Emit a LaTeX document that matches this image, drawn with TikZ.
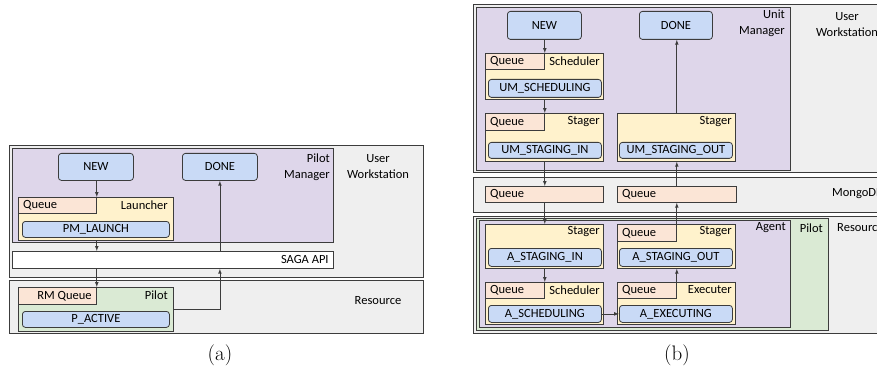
\documentclass[tikz,border=0pt]{standalone}
\usepackage{fontspec}
\usepackage{tikz}
\usetikzlibrary{calc}
\newfontfamily\boxfont{Carlito}
\definecolor{zonegray}{RGB}{239,239,239}
\definecolor{mgrpurple}{RGB}{222,214,234}
\definecolor{compyellow}{RGB}{255,242,204}
\definecolor{queueorange}{RGB}{251,229,214}
\definecolor{stateblue}{RGB}{201,218,246}
\definecolor{pilotgreen}{RGB}{218,234,212}
\definecolor{linegray}{RGB}{60,60,60}
\tikzset{
	txt/.style={font=\boxfont\fontsize{12.5}{16}\selectfont, inner sep=0pt},
	zone/.style={draw=linegray, fill=zonegray, line width=0.8pt, anchor=north west, inner sep=0pt},
	mgr/.style={zone, fill=mgrpurple},
	comp/.style={zone, fill=compyellow},
	que/.style={zone, fill=queueorange},
	plt/.style={zone, fill=pilotgreen},
	api/.style={zone, fill=white},
	state/.style={zone, txt, fill=stateblue, rounded corners=3pt},
	arr/.style={-latex, linegray, line width=0.7pt},
	subcap/.style={font=\fontsize{21}{25}\selectfont, inner sep=0pt},
}

\begin{document}
\begin{tikzpicture}[x=1pt, y=-1pt]
		%%%%% START %%%%%
		\clip (0, 0) rectangle (877, 374);
		
		%%%%% (a) %%%%%
		\node[zone, minimum width=414pt, minimum height=132pt] (uw) at (9, 145) {};
		\node[zone, minimum width=414pt, minimum height=53pt] (res) at (9, 280) {};
		\node[mgr, minimum width=321pt, minimum height=94pt] (pm) at (12, 148) {};
		\node[txt, align=right, anchor=east] (pmlbl) at (330, 167) {Pilot\\Manager};
		\node[txt, align=center] (uwlbl) at (378, 167) {User\\Workstation};
		\node[txt] (reslbl) at (378, 301) {Resource};
		
		\node[state, minimum width=75pt, minimum height=27pt] (new) at (58, 153) {NEW};
		\node[state, minimum width=75pt, minimum height=27pt] (done) at (182, 153) {DONE};
		
		\node[comp, minimum width=155pt, minimum height=43pt] (launcher) at (18, 197) {};
		\node[que, minimum width=78pt, minimum height=16pt] (lq) at (18, 197) {};
		\node[txt, anchor=west] (lqlbl) at ([xshift=5pt]lq.west) {Queue};
		\node[txt, anchor=east] (launcherlbl) at (168, 205) {Launcher};
		\node[state, minimum width=147pt, minimum height=16pt] (pmlaunch) at (22, 221) {PM\_LAUNCH};
		
		\node[api, minimum width=321pt, minimum height=17pt] (saga) at (12, 251) {};
		\node[txt, anchor=east] (sagalbl) at ([xshift=-5pt]saga.east) {SAGA API};
		
		\node[plt, minimum width=155pt, minimum height=44pt] (pilot) at (18, 287) {};
		\node[que, minimum width=78pt, minimum height=17pt] (rmq) at (18, 287) {};
		\node[txt, anchor=east] (rmqlbl) at ([xshift=-5pt]rmq.east) {RM Queue};
		\node[txt, anchor=east] (pilotlbl) at (168, 295) {Pilot};
		\node[state, minimum width=147pt, minimum height=16pt] (pactive) at (22, 311) {P\_ACTIVE};
		
		\draw[arr] (new.south -| lq.east) -- (lq.north east);
		\draw[arr] (launcher.south -| lq.east) -- (saga.north -| lq.east);
		\draw[arr] (saga.south -| rmq.east) -- (rmq.north east);
		\draw[arr] (pilot.east) -| (saga.south -| done.south);
		\draw[arr] (saga.north -| done.south) -- (done.south);
		
		\node[subcap] (capa) at (220, 355) {(a)};
		
		%%%%% (b) %%%%%
		\node[zone, minimum width=430pt, minimum height=168pt] (uw2) at (473, 4) {};
		\node[zone, minimum width=430pt, minimum height=35pt] (mongo) at (473, 177) {};
		\node[zone, minimum width=430pt, minimum height=117pt] (res2) at (473, 216) {};
		\node[mgr, minimum width=314pt, minimum height=163pt] (um) at (476, 7) {};
		\node[txt, align=right, anchor=east] (umlbl) at (785, 23) {Unit\\Manager};
		\node[txt, align=center] (uw2lbl) at (847, 25) {User\\Workstation};
		
		\node[state, minimum width=74pt, minimum height=28pt] (new2) at (507, 11) {NEW};
		\node[state, minimum width=73pt, minimum height=28pt] (done2) at (639, 11) {DONE};
		
		\node[comp, minimum width=118pt, minimum height=46pt] (sched) at (485, 53) {};
		\node[que, minimum width=59pt, minimum height=16pt] (sq) at (485, 53) {};
		\node[txt, anchor=west] (sqlbl) at ([xshift=5pt]sq.west) {Queue};
		\node[txt, anchor=east] (schedlbl) at (600, 61) {Scheduler};
		\node[state, minimum width=113pt, minimum height=18pt] (umsched) at (488, 79) {UM\_SCHEDULING};
		
		\node[comp, minimum width=118pt, minimum height=48pt] (stin) at (485, 113) {};
		\node[que, minimum width=59pt, minimum height=17pt] (siq) at (485, 113) {};
		\node[txt, anchor=west] (siqlbl) at ([xshift=5pt]siq.west) {Queue};
		\node[txt, anchor=east] (stinlbl) at (600, 122) {Stager};
		\node[state, minimum width=113pt, minimum height=16pt] (umstin) at (488, 142) {UM\_STAGING\_IN};
		
		\node[comp, minimum width=118pt, minimum height=48pt] (stout) at (617, 113) {};
		\node[txt, anchor=east] (stoutlbl) at (732, 122) {Stager};
		\node[state, minimum width=113pt, minimum height=16pt] (umstout) at (619, 142) {UM\_STAGING\_OUT};
		
		\node[que, minimum width=118pt, minimum height=16pt] (mq1) at (485, 186) {};
		\node[txt, anchor=west] (mq1lbl) at ([xshift=5pt]mq1.west) {Queue};
		\node[que, minimum width=119pt, minimum height=16pt] (mq2) at (617, 186) {};
		\node[txt, anchor=west] (mq2lbl) at ([xshift=5pt]mq2.west) {Queue};
		\node[txt, anchor=west] (mongolbl) at (832, 194) {MongoDB};
		
		\node[plt, minimum width=352pt, minimum height=112pt] (pilot2) at (476, 218) {};
		\node[mgr, minimum width=311pt, minimum height=107pt] (agent) at (479, 220) {};
		\node[txt, anchor=east] (agentlbl) at (786, 228) {Agent};
		\node[txt, anchor=east] (pilot2lbl) at (823, 228) {Pilot};
		\node[txt, anchor=west] (res2lbl) at (837, 228) {Resource};
		
		\node[comp, minimum width=118pt, minimum height=44pt] (astin) at (485, 224) {};
		\node[txt, anchor=east] (astinlbl) at (600, 232) {Stager};
		\node[state, minimum width=113pt, minimum height=18pt] (aastin) at (488, 248) {A\_STAGING\_IN};
		
		\node[comp, minimum width=118pt, minimum height=44pt] (astout) at (617, 224) {};
		\node[que, minimum width=59pt, minimum height=17pt] (soq) at (617, 224) {};
		\node[txt, anchor=west] (soqlbl) at ([xshift=5pt]soq.west) {Queue};
		\node[txt, anchor=east] (astoutlbl) at (732, 232) {Stager};
		\node[state, minimum width=113pt, minimum height=18pt] (aastout) at (619, 248) {A\_STAGING\_OUT};
		
		\node[comp, minimum width=118pt, minimum height=42pt] (asched) at (485, 282) {};
		\node[que, minimum width=59pt, minimum height=16pt] (asq) at (485, 282) {};
		\node[txt, anchor=west] (asqlbl) at ([xshift=5pt]asq.west) {Queue};
		\node[txt, anchor=east] (aschedlbl) at (600, 290) {Scheduler};
		\node[state, minimum width=113pt, minimum height=17pt] (aasched) at (488, 305) {A\_SCHEDULING};
		
		\node[comp, minimum width=118pt, minimum height=42pt] (aexec) at (617, 282) {};
		\node[que, minimum width=59pt, minimum height=16pt] (aeq) at (617, 282) {};
		\node[txt, anchor=west] (aeqlbl) at ([xshift=5pt]aeq.west) {Queue};
		\node[txt, anchor=east] (aexeclbl) at (732, 290) {Executer};
		\node[state, minimum width=113pt, minimum height=17pt] (aaexec) at (619, 305) {A\_EXECUTING};
		
		\draw[arr] (new2.south -| sq.east) -- (sq.north east);
		\draw[arr] (sched.south -| sq.east) -- (siq.north east);
		\draw[arr] (stin.south -| siq.east) -- (mq1.north -| siq.east);
		\draw[arr] (mq1.south -| siq.east) -- (astin.north -| siq.east);
		\draw[arr] (astin.south -| asq.east) -- (asq.north east);
		\draw[arr] (aasched.east) -- (aaexec.west);
		\draw[arr] (aeq.north east) -- (astout.south -| aeq.east);
		\draw[arr] (soq.north east) -- (mq2.south -| soq.east);
		\draw[arr] (mq2.north -| soq.east) -- (stout.south -| soq.east);
		\draw[arr] (stout.north -| soq.east) -- (done2.south -| soq.east);
		
		\node[subcap] (capb) at (677, 355) {(b)};
		
		%%%%% END %%%%%
	\end{tikzpicture}
\end{document}
